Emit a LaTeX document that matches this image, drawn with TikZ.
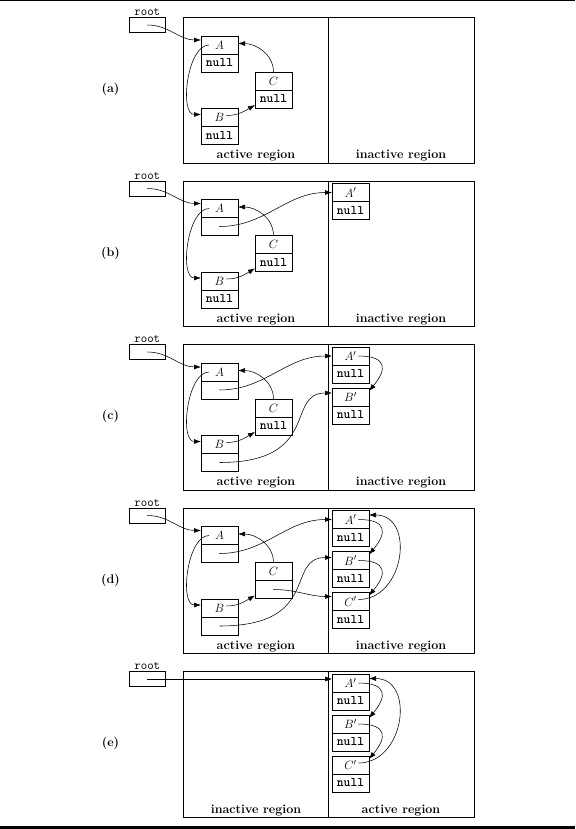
\documentclass[tikz,border=0pt]{standalone}
\usetikzlibrary{positioning,arrows.meta}

% a record of two fields: name, centre of the upper field, label, lower field
\newcommand{\listrec}[4]{%
  \node[cell] (#1) at (#2) {#3};
  \node[cell,below=0pt of #1] (#1f) {#4};}
\newcommand{\nil}{{\fontsize{13}{14}\ttfamily\fontseries{b}\selectfont null}}

\begin{document}
\begin{tikzpicture}[x=1pt,y=1pt,
    font=\fontsize{12.5}{14}\selectfont,
    cell/.style={draw,line width=0.7pt,minimum width=37pt,minimum height=18pt,
      inner sep=0pt,outer sep=0pt},
    ptr/.style={-{Latex[length=7pt,width=5pt]},line width=0.55pt},
    tag/.style={font=\fontsize{12.5}{14}\selectfont\bfseries}]

\useasboundingbox (0,0) rectangle (575,-829);

% rules at top and bottom
\draw[line width=2pt] (0,-0.5) -- (575,-0.5);
\draw[line width=2.4pt] (0,-827.6) -- (575,-827.6);

% frames, root boxes and tags
\foreach \p/\ty/\lreg/\rreg in {a/17.5/active/inactive, b/181/active/inactive,
    c/344.5/active/inactive, d/508/active/inactive, e/671.5/inactive/active}{
  \begin{scope}[yshift=-\ty pt]
  \draw[line width=0.7pt] (183.3,0) rectangle (474.5,-145.5);
  \draw[line width=0.7pt] (328.3,0) -- (328.3,-145.5);
  \node[tag] (left\p) at (256,-138.5) {\lreg\ region};
  \node[tag] (right\p) at (401,-138.5) {\rreg\ region};
  \node[draw,line width=0.7pt,minimum width=36pt,minimum height=15pt,
    inner sep=0pt] (root\p) at (147.3,-7.5) {};
  \node[above=1pt of root\p,inner sep=0pt,font=\fontsize{12.5}{14}\ttfamily]
    (rootlbl\p) {root};
  \node[tag] (lab\p) at (110.5,-72) {(\p)};
  \end{scope}
}

%(a)
\begin{scope}[yshift=-17.5pt]
\listrec{Aa}{219.5,-27.5}{$A$}{\nil}
\listrec{Ba}{219.5,-100}{$B$}{\nil}
\listrec{Ca}{273.5,-63.5}{$C$}{\nil}
\end{scope}
\draw[ptr] (roota.center) to[out=0,in=180] ([yshift=5pt]Aa.west);
\draw[ptr] ([xshift=-10.5pt]Aa.center) to[out=180,in=180,looseness=0.8] ([yshift=3pt]Ba.west);
\draw[ptr] ([xshift=7pt,yshift=2pt]Ba.center) to[out=0,in=210] ([yshift=-6pt]Caf.west);
\draw[ptr] (Ca.north) to[out=90,in=0] ([yshift=1.5pt]Aa.east);

%(b)
\begin{scope}[yshift=-181pt]
\listrec{Ab}{219.5,-27.5}{$A$}{}
\listrec{Bb}{219.5,-100}{$B$}{\nil}
\listrec{Cb}{273.5,-63.5}{$C$}{\nil}
\listrec{Apb}{350.5,-11.5}{$A'$}{\nil}
\end{scope}
\draw[ptr] (rootb.center) to[out=0,in=180] ([yshift=5pt]Ab.west);
\draw[ptr] ([xshift=-10.5pt]Ab.center) to[out=180,in=180,looseness=0.8] ([yshift=3pt]Bb.west);
\draw[ptr] ([xshift=7pt,yshift=2pt]Bb.center) to[out=0,in=210] ([yshift=-6pt]Cbf.west);
\draw[ptr] (Cb.north) to[out=90,in=0] ([yshift=1.5pt]Ab.east);
\draw[ptr] (Abf.center) to[out=0,in=180] (Apb.west);

%(c)
\begin{scope}[yshift=-344.5pt]
\listrec{Ac}{219.5,-27.5}{$A$}{}
\listrec{Bc}{219.5,-100}{$B$}{}
\listrec{Cc}{273.5,-63.5}{$C$}{\nil}
\listrec{Apc}{350.5,-11.5}{$A'$}{\nil}
\listrec{Bpc}{350.5,-52.5}{$B'$}{\nil}
\end{scope}
\draw[ptr] (rootc.center) to[out=0,in=180] ([yshift=5pt]Ac.west);
\draw[ptr] ([xshift=-10.5pt]Ac.center) to[out=180,in=180,looseness=0.8] ([yshift=3pt]Bc.west);
\draw[ptr] ([xshift=7pt,yshift=2pt]Bc.center) to[out=0,in=210] ([yshift=-6pt]Ccf.west);
\draw[ptr] (Cc.north) to[out=90,in=0] ([yshift=1.5pt]Ac.east);
\draw[ptr] (Acf.center) to[out=0,in=180] (Apc.west);
\draw[ptr] (Bcf.center) .. controls +(102.5,0) and +(-47,0) .. ([yshift=4pt]Bpc.west);
\draw[ptr] ([xshift=8pt]Apc.center) to[out=0,in=50,looseness=2] ([yshift=6pt]Bpc.east);

%(d)
\begin{scope}[yshift=-508pt]
\listrec{Ad}{219.5,-27.5}{$A$}{}
\listrec{Bd}{219.5,-100}{$B$}{}
\listrec{Cd}{273.5,-63.5}{$C$}{}
\listrec{Apd}{350.5,-11.5}{$A'$}{\nil}
\listrec{Bpd}{350.5,-52.5}{$B'$}{\nil}
\listrec{Cpd}{350.5,-93.5}{$C'$}{\nil}
\end{scope}
\draw[ptr] (rootd.center) to[out=0,in=180] ([yshift=5pt]Ad.west);
\draw[ptr] ([xshift=-10.5pt]Ad.center) to[out=180,in=180,looseness=0.8] ([yshift=3pt]Bd.west);
\draw[ptr] ([xshift=7pt,yshift=2pt]Bd.center) to[out=0,in=210] ([yshift=-6pt]Cdf.west);
\draw[ptr] (Cd.north) to[out=90,in=0] ([yshift=1.5pt]Ad.east);
\draw[ptr] (Adf.center) to[out=0,in=180] (Apd.west);
\draw[ptr] (Bdf.center) .. controls +(102.5,0) and +(-47,0) .. ([yshift=3pt]Bpd.west);
\draw[ptr] (Cdf.center) to[out=0,in=180] ([yshift=5pt]Cpd.west);
\draw[ptr] ([xshift=8pt]Apd.center) to[out=0,in=50,looseness=2] ([yshift=6pt]Bpd.east);
\draw[ptr] ([xshift=8pt]Bpd.center) to[out=0,in=50,looseness=2] ([yshift=6pt]Cpd.east);
\draw[ptr] ([xshift=8pt,yshift=2pt]Cpd.center) to[out=0,in=0,looseness=1.4] ([yshift=4.5pt]Apd.east);

%(e)
\begin{scope}[yshift=-671.5pt]
\listrec{Ape}{350.5,-11.5}{$A'$}{\nil}
\listrec{Bpe}{350.5,-52.5}{$B'$}{\nil}
\listrec{Cpe}{350.5,-93.5}{$C'$}{\nil}
\end{scope}
\draw[ptr] (roote.center) -- (roote.center -| Ape.west);
\draw[ptr] ([xshift=8pt]Ape.center) to[out=0,in=50,looseness=2] ([yshift=6pt]Bpe.east);
\draw[ptr] ([xshift=8pt]Bpe.center) to[out=0,in=50,looseness=2] ([yshift=6pt]Cpe.east);
\draw[ptr] ([xshift=8pt,yshift=2pt]Cpe.center) to[out=0,in=0,looseness=1.4] ([yshift=4.5pt]Ape.east);

\end{tikzpicture}
\end{document}
